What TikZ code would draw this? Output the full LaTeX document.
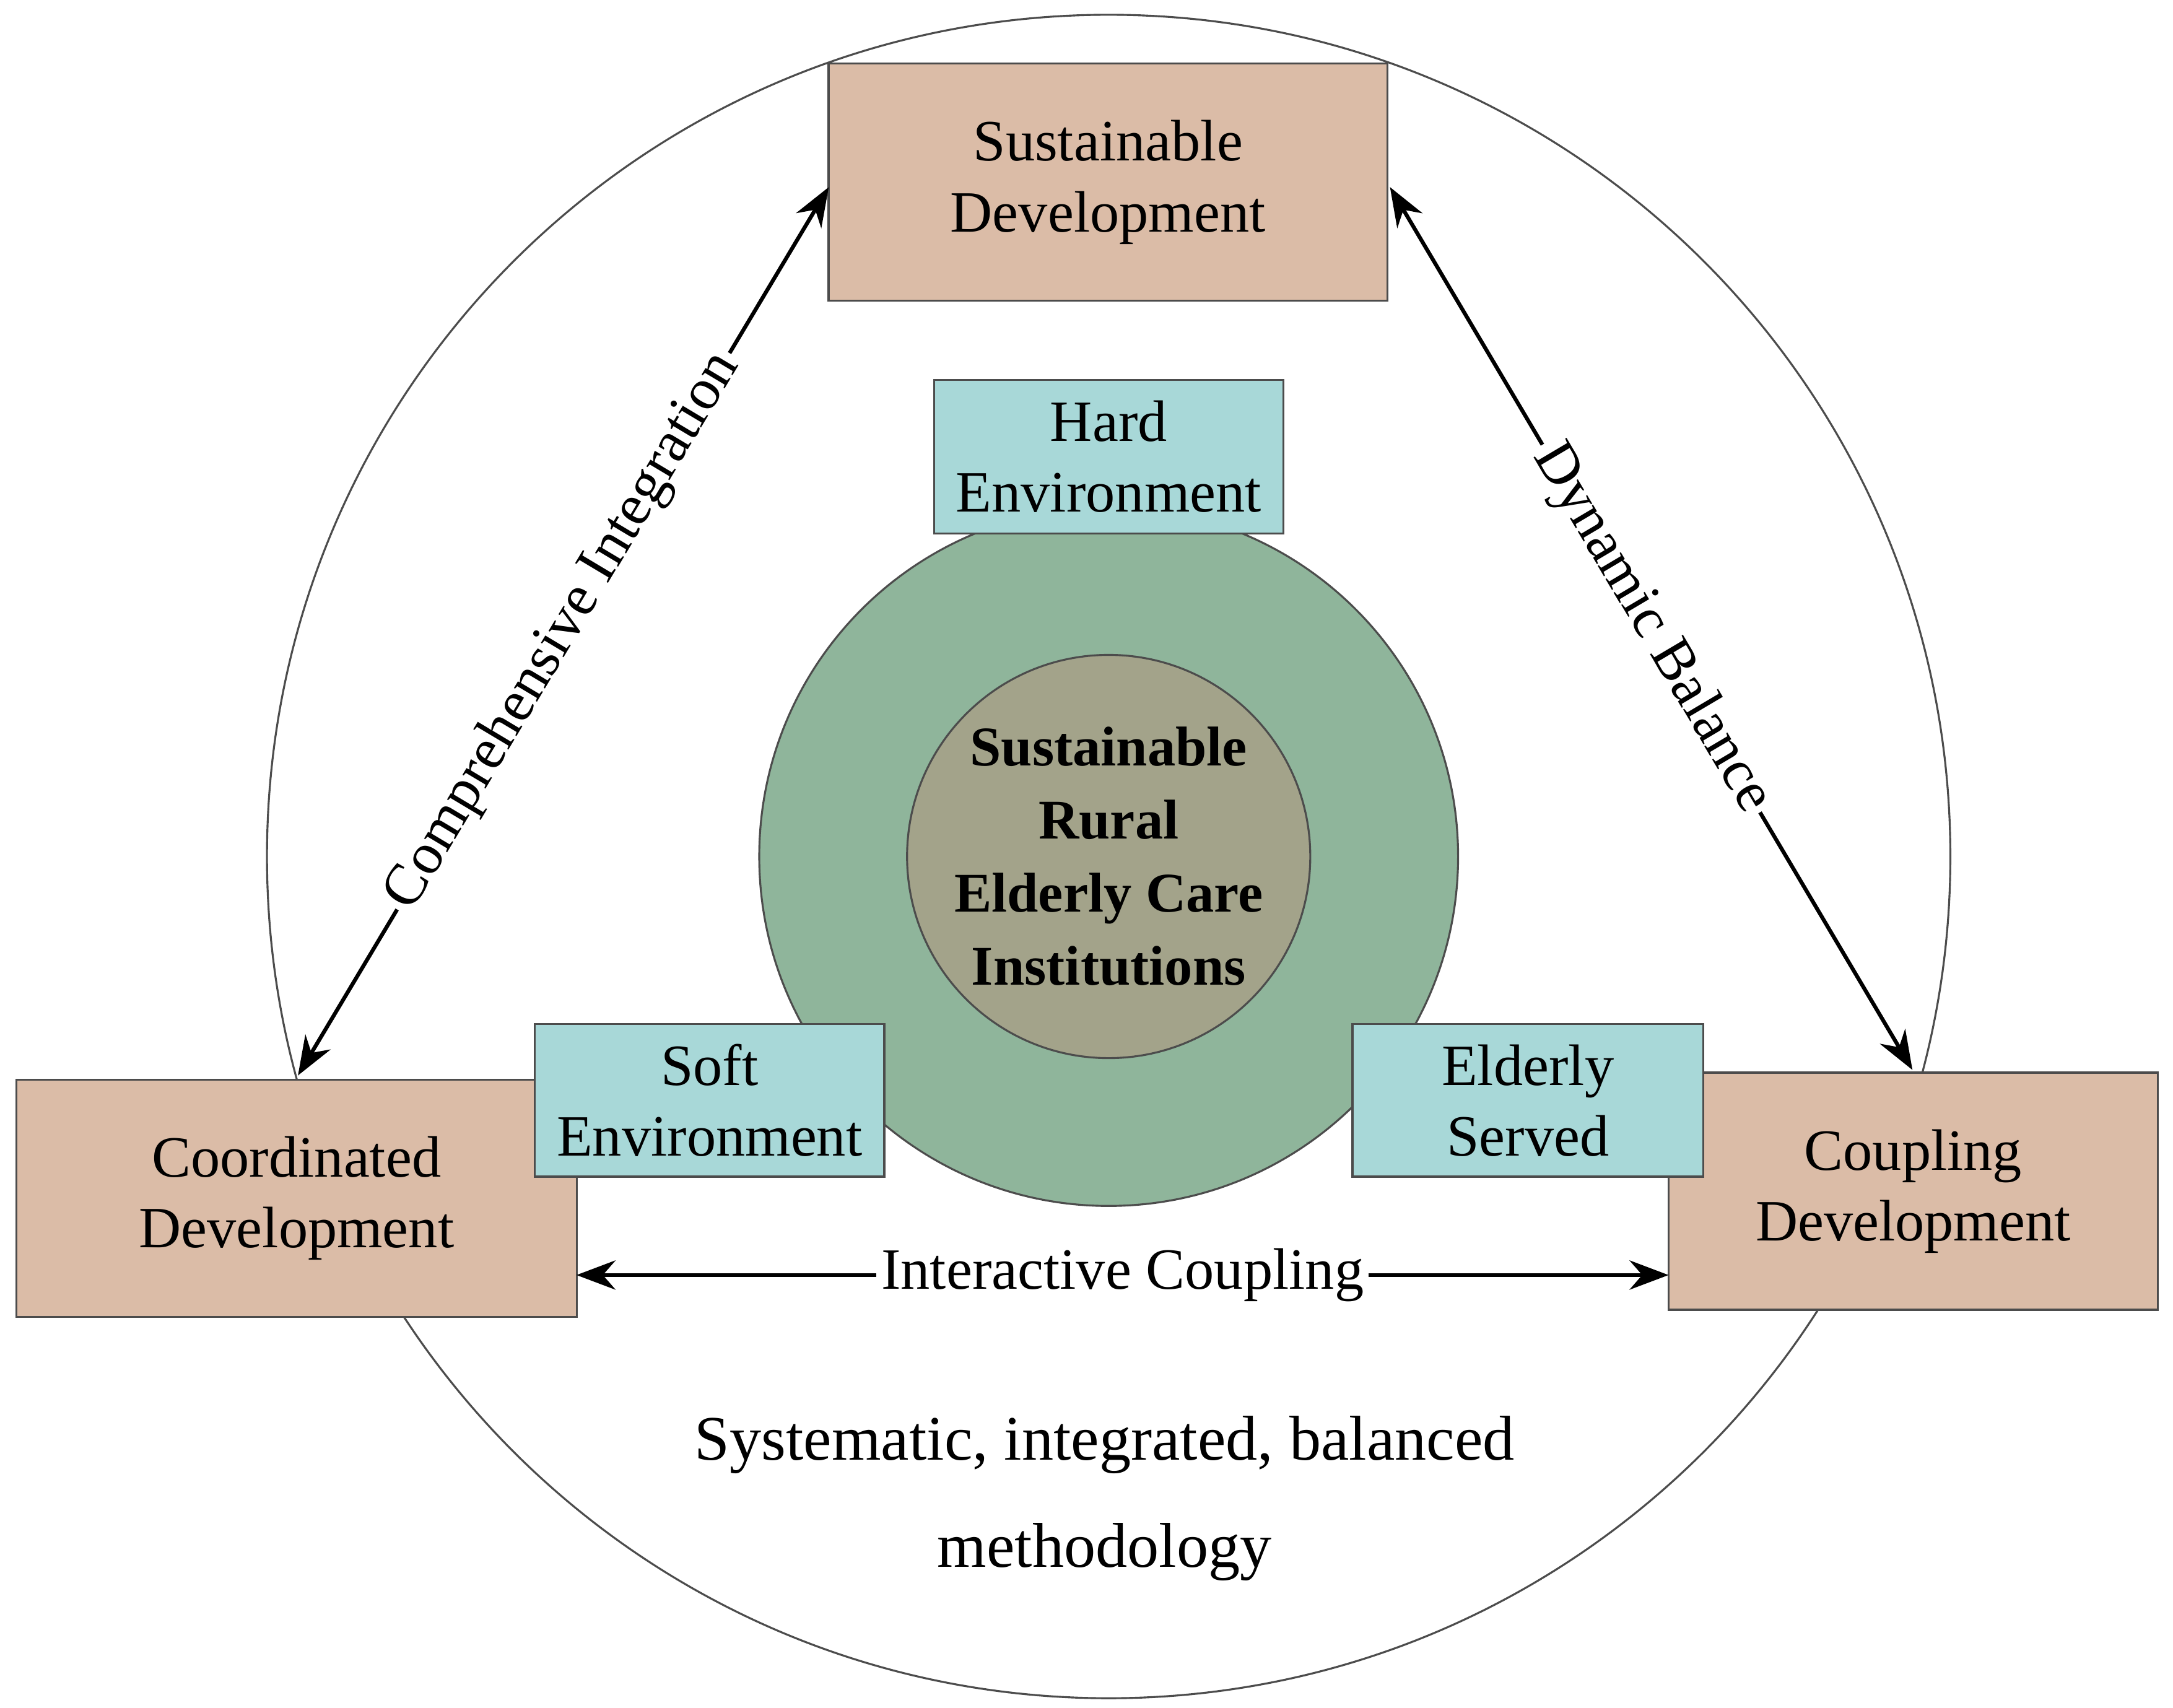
\documentclass[tikz,border=0pt]{standalone}
\usepackage{fontspec}
\setmainfont{Liberation Serif}
\usetikzlibrary{arrows.meta}
\definecolor{boxbrown}{HTML}{DBBCA7}
\definecolor{boxcyan}{HTML}{A8D8D8}
\definecolor{ringgreen}{HTML}{8FB59B}
\definecolor{coregrey}{HTML}{A3A38A}
\begin{document}
\begin{tikzpicture}[x=0.01cm,y=-0.01cm,
  txt/.style={font=\fontsize{12pt}{14.5pt}\selectfont,align=center,inner sep=1pt},
  bbox/.style={draw=black!70,fill=boxbrown,txt},
  cbox/.style={draw=black!70,fill=boxcyan,txt},
  arr/.style={{Stealth[length=8pt,width=6pt]}-{Stealth[length=8pt,width=6pt]},line width=0.8pt},
  lab/.style={fill=white,inner sep=1pt,font=\fontsize{12pt}{14pt}\selectfont}]
\useasboundingbox (0,0) rectangle (1568,1232);
\node[circle,draw=black!70,line width=0.4pt,minimum size=12.14cm] (outer) at (800,618) {};
\node[circle,draw=black!70,fill=ringgreen,minimum size=5.04cm] (ring) at (800,618) {};
\node[circle,draw=black!70,fill=coregrey,minimum size=2.9cm,inner sep=0pt,align=center,font=\fontsize{11.5pt}{15pt}\selectfont\bfseries] (core) at (800,618) {Sustainable\\Rural\\Elderly Care\\Institutions};
\node[bbox,minimum width=4.03cm,minimum height=1.71cm] (sd) at (799.5,131.5) {Sustainable\\Development};
\node[bbox,minimum width=4.04cm,minimum height=1.71cm] (cd) at (214,864.5) {Coordinated\\Development};
\node[bbox,minimum width=3.53cm,minimum height=1.71cm] (cp) at (1380.5,859.5) {Coupling\\Development};
\node[cbox,minimum width=2.52cm,minimum height=1.11cm] (he) at (800,329.5) {Hard\\Environment};
\node[cbox,minimum width=2.52cm,minimum height=1.10cm] (se) at (512,794) {Soft\\Environment};
\node[cbox,minimum width=2.53cm,minimum height=1.10cm] (es) at (1102.5,794) {Elderly\\Served};
\coordinate (a1) at (598,135); \coordinate (a2) at (215,776);
\coordinate (b1) at (1003,135); \coordinate (b2) at (1380,772);
\coordinate (c1) at (416,920); \coordinate (c2) at (1204,920);
\draw[arr] (a1) -- node[lab,sloped,pos=0.5] {Comprehensive Integration} (a2);
\draw[arr] (b1) -- node[lab,sloped,pos=0.5] {Dynamic Balance} (b2);
\draw[arr] (c1) -- node[lab,pos=0.5] {Interactive Coupling} (c2);
\node[txt,font=\fontsize{13pt}{22pt}\selectfont] (meth) at (797,1081) {Systematic, integrated, balanced\\methodology};
\end{tikzpicture}
\end{document}
